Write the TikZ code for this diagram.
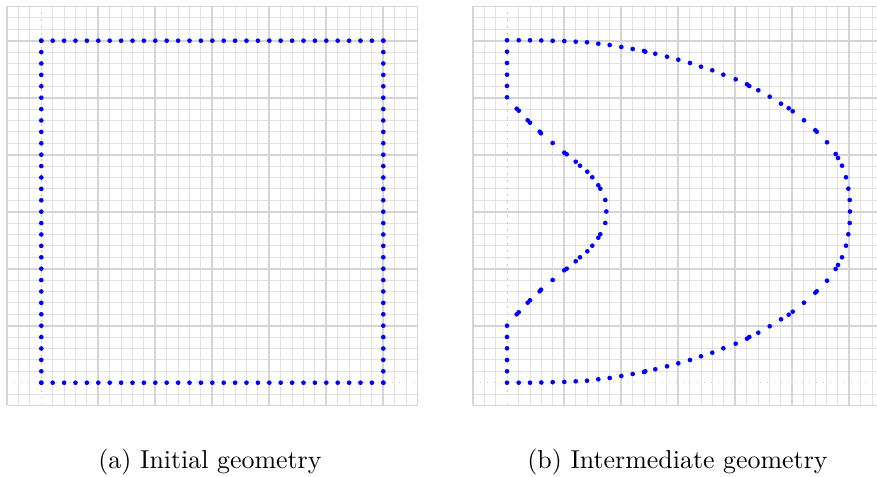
\documentclass[tikz,border=0pt]{standalone}
\definecolor{gminor}{RGB}{226,226,226}
\definecolor{gmajor}{RGB}{213,213,213}
\definecolor{gaxis}{RGB}{200,200,200}
\definecolor{dotc}{RGB}{0,0,255}
\tikzset{
  minorline/.style={draw=gminor, line width=0.4pt},
  majorline/.style={draw=gmajor, line width=0.66pt},
  axisline/.style={draw=gaxis, line width=0.4pt, dash pattern=on 0.5pt off 2.2pt},
  meshdot/.style={fill=dotc},
  captiontext/.style={anchor=base, inner sep=0pt}
}
% #1 = origin x (px), #2 = origin y (px), #3 = pass (1 minor, 2 others)
\newcommand{\mypanelgrid}[3]{%
  \foreach \k in {-3,...,33}{%
    \pgfmathtruncatemacro{\m}{mod(\k+100,5)}%
    \def\st{1}%
    \ifnum\m=0 \def\st{2}\fi
    \ifnum\k=-3 \def\st{2}\fi
    \ifnum\k=33 \def\st{2}\fi
    \ifnum\k=0 \def\st{3}\fi
    \ifnum#3=1 \ifnum\st=1 \draw[minorline] ({#1+11.4*\k},{#2+2*11.4}) -- ({#1+11.4*\k},{#2-33*11.4});\fi\fi
    \ifnum#3=2 \ifnum\st=2 \draw[majorline] ({#1+11.4*\k},{#2+2*11.4}) -- ({#1+11.4*\k},{#2-33*11.4});\fi
      \ifnum\st=3 \draw[axisline] ({#1+11.4*\k},{#2+2*11.4}) -- ({#1+11.4*\k},{#2-33*11.4});\fi\fi
  }%
  \foreach \k in {-2,...,33}{%
    \pgfmathtruncatemacro{\m}{mod(\k+100,5)}%
    \def\st{1}%
    \ifnum\m=0 \def\st{2}\fi
    \ifnum\k=-2 \def\st{2}\fi
    \ifnum\k=33 \def\st{2}\fi
    \ifnum\k=0 \def\st{3}\fi
    \ifnum#3=1 \ifnum\st=1 \draw[minorline] ({#1-3*11.4},{#2-11.4*\k}) -- ({#1+33*11.4},{#2-11.4*\k});\fi\fi
    \ifnum#3=2 \ifnum\st=2 \draw[majorline] ({#1-3*11.4},{#2-11.4*\k}) -- ({#1+33*11.4},{#2-11.4*\k});\fi
      \ifnum\st=3 \draw[axisline] ({#1-3*11.4},{#2-11.4*\k}) -- ({#1+33*11.4},{#2-11.4*\k});\fi\fi
  }%
}
\begin{document}
\begin{tikzpicture}[x=0.386pt, y=-0.386pt]
  \path[use as bounding box, clip] (0,0) rectangle (877,477);
  \fill[white] (0,0) rectangle (877,477);
  % grids
  \mypanelgrid{41.3}{382.7}{1}
  \mypanelgrid{507.3}{382.7}{1}
  \mypanelgrid{41.3}{382.7}{2}
  \mypanelgrid{507.3}{382.7}{2}
  % (a) initial square boundary
  \foreach \i in {0,...,30}{
    \fill[meshdot] ({41.3+11.4*\i},{382.7-30*11.4}) circle[radius=0.9pt];
    \fill[meshdot] ({41.3+11.4*\i},382.7) circle[radius=0.9pt];
    \fill[meshdot] (41.3,{382.7-11.4*\i}) circle[radius=0.9pt];
    \fill[meshdot] ({41.3+30*11.4},{382.7-11.4*\i}) circle[radius=0.9pt];
  }
  % (b) deformed boundary (upper half, mirrored about the middle)
  \foreach \x/\y in {507/40.3,518.7/40.3,530/40.3,541.3/40.5,552.7/40.8,564.3/41.1,575.7/41.7,587/42.3,
    598.3/43.7,609.7/45,621.3/47,632.7/49,644/51,645.3/51.7,655.3/53.7,667/56.7,678.3/59.7,690/63,
    701/66.7,712.3/70.3,723.3/74.7,735.7/79.3,747/84.3,749.3/86,758.3/90.3,769.7/96.7,781/103.7,
    788.7/108.3,792.7/111.3,804/120.3,815.3/130.3,816.7/131.7,827/142.3,835.7/154,838/158,842/165.7,
    846/177.3,848.3/188.7,849.7/200,
    507/51.7,507/63,507/74.7,507/86,507/97.3,516.7/108.7,518.7/110.7,527.7/120.3,530/122.7,
    539.7/131.7,541/133.3,552.7/143,564.3/152.7,566.7/154.3,575.7/161.7,580/165.7,587.3/171.7,
    592.3/177.3,598.3/185.3,600.3/188.7,605.3/200}{
    \fill[meshdot] (\x,\y) circle[radius=0.9pt];
    \fill[meshdot] (\x,{423-\y}) circle[radius=0.9pt];
  }
  \fill[meshdot] (850,211.5) circle[radius=0.9pt];
  \fill[meshdot] (606.3,211.5) circle[radius=0.9pt];
  % captions
  \node[captiontext] (capa) at (210,469) {(a) Initial geometry};
  \node[captiontext] (capb) at (677.5,469) {(b) Intermediate geometry};
\end{tikzpicture}
\end{document}
